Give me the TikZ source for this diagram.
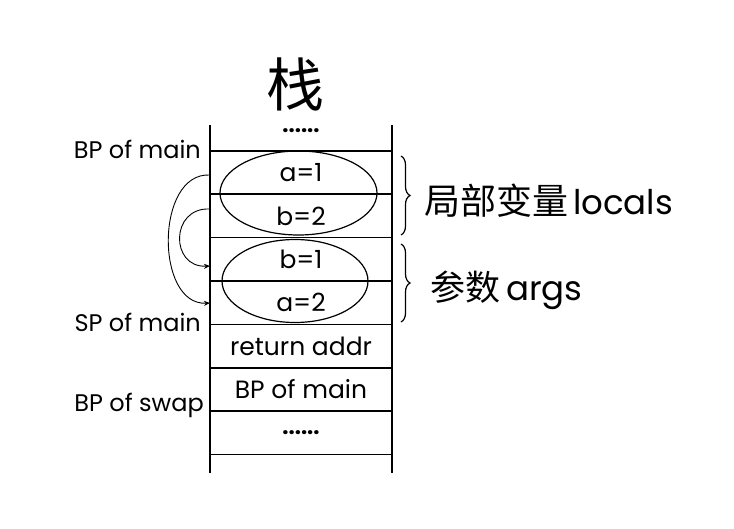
\documentclass[tikz,border=0pt]{standalone}
\usepackage{fontspec}
\setmainfont{Poppins}
\newfontfamily\cjk{Noto Sans CJK SC}
\usetikzlibrary{positioning,arrows.meta,shapes.geometric,decorations.pathreplacing}
\newcommand{\fsz}[1]{\fontsize{#1}{#1}\selectfont}

\begin{document}
\begin{tikzpicture}[
      x=1pt, y=-1pt,
      cell/.style = {minimum width=182pt, minimum height=43pt,
                     inner sep=0pt, font=\fsz{25}},
      side/.style = {anchor=east, inner sep=0pt, font=\fsz{24}},
      line/.style = {line width=1.6pt},
      oval/.style = {ellipse, draw, line width=1.2pt, inner sep=0pt},
      arrow/.style = {-{Stealth[length=6pt,width=5pt]}, line width=0.9pt},
      brace/.style = {decorate, decoration={brace, amplitude=9pt}, line width=1.2pt}
    ]
    \useasboundingbox (0,0) rectangle (734,528);
    % Nodes
    \node[font=\cjk\fsz{58}] (title) at (295,84) {栈};
    \node[font=\bfseries\fsz{22}] (topdots) at (301,131) {......};
    \node[cell] (a1) at (301,172.5) {a=1};
    \node[cell, below=0pt of a1] (b2) {b=2};
    \node[cell, below=0pt of b2] (b1) {b=1};
    \node[cell, below=0pt of b1] (a2) {a=2};
    \node[cell, below=0pt of a2] (ret) {return addr};
    \node[cell, below=0pt of ret] (bpm) {BP of main};
    \node[cell, below=0pt of bpm, font=\bfseries\fsz{22}] (dots) {......};
    \coordinate (tl) at (210,125);
    \coordinate (tr) at (392,125);
    \coordinate (bl) at (210,473);
    \coordinate (br) at (392,473);

    \node[oval, minimum width=157pt, minimum height=84pt] (locals) at (298.5,193) {};
    \node[oval, minimum width=146pt, minimum height=83pt] (args) at (295,281) {};

    \node[side] (bpmain) at (201,149) {BP of main};
    \node[side] (spmain) at (201,322) {SP of main};
    \node[side] (bpswap) at (204,405) {BP of swap};

    \node[anchor=west, inner sep=0pt] (loclab) at (424,201)
         {{\cjk\fsz{36}局部变量}\hspace{5pt}{\fsz{34}locals}};
    \node[anchor=west, inner sep=0pt] (arglab) at (430,290)
         {{\cjk\fsz{35}参数}\hspace{6pt}{\fsz{34}args}};

    % Stack lines
    \draw[line] (tl) -- (bl);
    \draw[line] (tr) -- (br);
    \foreach \n in {a1,b2,b1,a2,ret,bpm,dots}
      \draw[line] (\n.north west) -- (\n.north east);
    \draw[line] (dots.south west) -- (dots.south east);

    % Braces
    \draw[brace] (401,156) -- (401,235);
    \draw[brace] (401,244) -- (401,322);

    % Arrows
    \coordinate (out1) at (210,175);
    \coordinate (in1) at (210,303);
    \coordinate (out2) at (210,209);
    \coordinate (in2) at (210,266);
    \draw[arrow] (out1) .. controls (155,172) and (155,306) .. (in1);
    \draw[arrow] (out2) .. controls (170,207) and (170,268) .. (in2);
  \end{tikzpicture}
\end{document}
